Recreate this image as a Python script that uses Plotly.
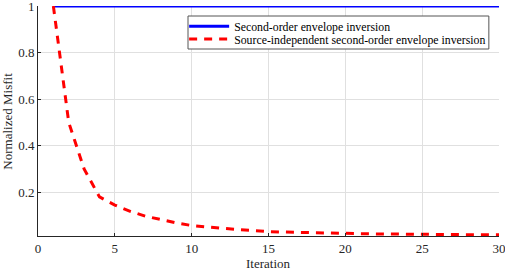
import plotly.graph_objects as go

iterations = list(range(1, 31))
blue_misfit = [1.0] * 30
red_misfit = [1.0, 0.5, 0.3, 0.18, 0.145, 0.118, 0.097, 0.081, 0.068, 0.057,
              0.050, 0.045, 0.040, 0.035, 0.031, 0.029, 0.027, 0.025, 0.024, 0.023,
              0.022, 0.021, 0.020, 0.020, 0.019, 0.019, 0.018, 0.018, 0.017, 0.017]
names = ["Second-order envelope inversion",
         "Source-independent second-order envelope inversion"]
x_ticks = [0, 5, 10, 15, 20, 25, 30]
y_ticks = [0.2, 0.4, 0.6, 0.8, 1]
y_tick_labels = ["0.2", "0.4", "0.6", "0.8", "1"]
x_title = "Iteration"
y_title = "Normalized Misfit"

font = "Liberation Serif"

fig = go.Figure()
fig.add_trace(go.Scatter(x=iterations, y=blue_misfit, mode="lines", name=names[0],
                         line=dict(color="#0000ff", width=3), cliponaxis=False,
                         legend="legend"))
fig.add_trace(go.Scatter(x=iterations, y=red_misfit, mode="lines", name=names[1],
                         line=dict(color="#ff0000", width=3, dash="8px,7px"),
                         cliponaxis=False, legend="legend2"))

axis_common = dict(showgrid=True, gridcolor="#e0e0e0", gridwidth=1,
                   zeroline=False, showline=True, linecolor="#262626", linewidth=1,
                   ticks="inside", ticklen=3, tickcolor="#262626",
                   ticklabeloverflow="allow", automargin=False,
                   tickfont=dict(family=font, size=13, color="#262626"))

legend_common = dict(xanchor="left", yanchor="middle", x=0.317,
                     bgcolor="rgba(0,0,0,0)", borderwidth=0,
                     font=dict(family=font, size=11.8, color="black"),
                     itemwidth=40)

fig.update_layout(
    width=505, height=272,
    margin=dict(l=38, r=6, t=6, b=36),
    paper_bgcolor="white", plot_bgcolor="white",
    font=dict(family=font, size=13, color="#262626"),
    showlegend=True,
    legend=dict(y=0.9117, **legend_common),
    legend2=dict(y=0.8565, **legend_common),
    xaxis=dict(range=[0, 30], tickvals=x_ticks, **axis_common),
    yaxis=dict(range=[0.012, 1], tickvals=y_ticks, ticktext=y_tick_labels,
               **axis_common),
    shapes=[dict(type="rect", xref="paper", yref="paper",
                 x0=0.3254, x1=0.978, y0=0.813, y1=0.9565,
                 line=dict(color="#555555", width=1), fillcolor="white",
                 layer="above")],
    annotations=[
        dict(text=x_title, xref="paper", yref="paper", x=0.5, y=-0.084,
             xanchor="center", yanchor="top", showarrow=False, borderpad=0,
             font=dict(family=font, size=13, color="#262626")),
        dict(text=y_title, xref="paper", yref="paper", x=-0.068, y=0.5,
             xanchor="center", yanchor="middle", textangle=-90, showarrow=False,
             font=dict(family=font, size=13, color="#262626")),
    ],
)

fig.write_html("out.html", config={"displayModeBar": False},
               post_script="document.body.style.margin='0px';")
